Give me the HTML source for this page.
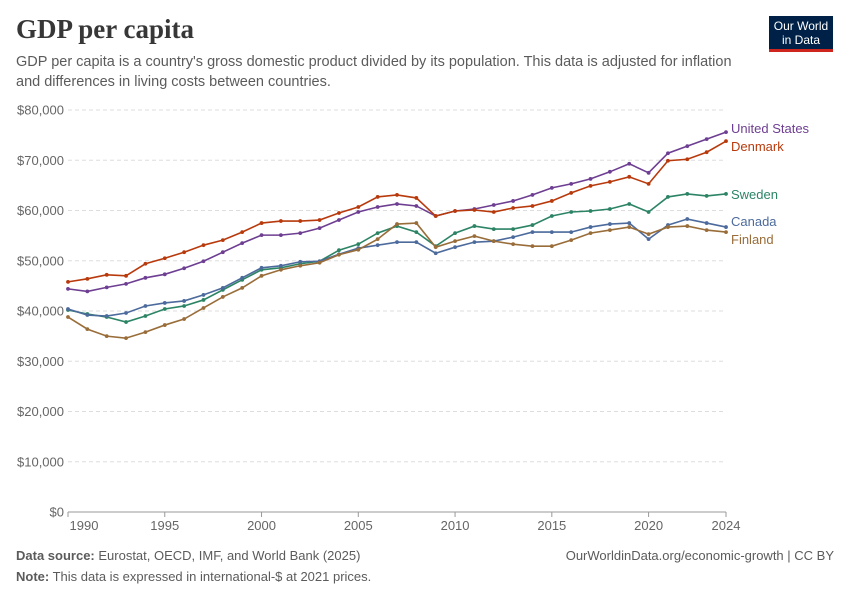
<!DOCTYPE html>
<html><head><meta charset="utf-8">
<style>
body{margin:0;background:#fff;font-family:"Liberation Sans",sans-serif;}
#wrap{position:relative;width:850px;height:600px;overflow:hidden;}
.t{position:absolute;margin:0;}
</style></head><body>
<div id="wrap">
<div class="t" style="left:16px;top:14px;font-family:'Liberation Serif',serif;font-size:27px;font-weight:bold;color:#373737;">GDP per capita</div>
<div class="t" style="left:16px;top:52px;width:720px;font-size:14.5px;line-height:20px;color:#5b5b5b;">GDP per capita is a country's gross domestic product divided by its population. This data is adjusted for inflation and differences in living costs between countries.</div>
<div class="t" style="left:769px;top:16px;width:64px;height:36px;background:#002147;border-bottom:3px solid #ce261e;color:#fff;font-size:12px;line-height:14px;text-align:center;box-sizing:border-box;display:flex;align-items:center;justify-content:center;">Our World<br>in Data</div>
<svg id="chart" width="850" height="600" style="position:absolute;left:0;top:0;"></svg>
<div class="t" style="left:16px;top:548px;font-size:13px;color:#5b5b5b;"><b>Data source:</b> Eurostat, OECD, IMF, and World Bank (2025)</div>
<div class="t" style="right:16px;top:548px;font-size:13px;color:#5b5b5b;">OurWorldinData.org/economic-growth | CC BY</div>
<div class="t" style="left:16px;top:569px;font-size:13px;color:#5b5b5b;"><b>Note:</b> This data is expressed in international-$ at 2021 prices.</div>
</div>
<script>
const years=[];for(let y=1990;y<=2024;y++)years.push(y);
const yTicks=[0,10000,20000,30000,40000,50000,60000,70000,80000];
const xTicks=[1990,1995,2000,2005,2010,2015,2020,2024];
const seriesNames=["United States","Denmark","Sweden","Canada","Finland"];
const usa=[44.4,43.9,44.7,45.4,46.6,47.3,48.5,49.9,51.7,53.5,55.1,55.1,55.5,56.5,58.1,59.7,60.7,61.3,60.9,58.9,59.9,60.3,61.1,61.9,63.1,64.5,65.3,66.3,67.7,69.3,67.5,71.4,72.8,74.2,75.6];
const denmark=[45.8,46.4,47.2,47.0,49.4,50.5,51.7,53.1,54.1,55.7,57.5,57.9,57.9,58.1,59.5,60.7,62.7,63.1,62.5,58.9,59.9,60.1,59.7,60.5,60.9,61.9,63.5,64.9,65.7,66.7,65.3,69.9,70.2,71.6,73.8];
const sweden=[40.2,39.4,38.8,37.8,39.0,40.4,41.0,42.2,44.2,46.2,48.2,48.6,49.4,49.9,52.1,53.3,55.5,56.9,55.7,52.9,55.5,56.9,56.3,56.3,57.1,58.9,59.7,59.9,60.3,61.3,59.7,62.7,63.3,62.9,63.3];
const canada=[40.4,39.2,39.0,39.6,41.0,41.6,42.0,43.2,44.6,46.6,48.6,49.0,49.8,49.9,51.3,52.5,53.1,53.7,53.7,51.5,52.7,53.7,53.9,54.7,55.7,55.7,55.7,56.7,57.3,57.5,54.3,57.1,58.3,57.5,56.7];
const finland=[38.8,36.4,35.0,34.6,35.8,37.2,38.4,40.6,42.8,44.6,47.0,48.2,49.0,49.6,51.2,52.2,54.3,57.3,57.5,52.7,53.9,54.9,53.9,53.3,52.9,52.9,54.1,55.5,56.1,56.7,55.3,56.7,56.9,56.1,55.7];
const allSeries=[usa,denmark,sweden,canada,finland];
const colors=["#6d3e91","#b83a0c","#2c8465","#4c6a9c","#996d39"];
const labelY=[128,146,194,221,239];
const NS="http://www.w3.org/2000/svg";
const svg=document.getElementById('chart');
const x=v=>68+(v-1990)*(726-68)/34;
const y=v=>512-v*(512-110)/80000;
function el(t,a){const e=document.createElementNS(NS,t);for(const k in a)e.setAttribute(k,a[k]);svg.appendChild(e);return e;}
yTicks.forEach(v=>{
  const g=el('line',{x1:68,x2:726,y1:y(v),y2:y(v),stroke:v===0?'#999':'#ddd','stroke-dasharray':v===0?'':'4,3'});
  
  
  const t=el('text',{x:64,y:y(v)+4.5,'text-anchor':'end','font-size':13,fill:'#666','font-family':'Liberation Sans'});
  t.textContent='$'+v.toLocaleString('en-US');
  
  
});
xTicks.forEach(v=>{
  const tk=el('line',{x1:x(v),x2:x(v),y1:512,y2:517,stroke:'#999'});
  
  
  const t=el('text',{x:v===1990?x(v)+16:x(v),y:530,'text-anchor':'middle','font-size':13,fill:'#666','font-family':'Liberation Sans'});
  t.textContent=v;
  
  
});
allSeries.forEach((s,i)=>{
  const pts=s.map((v,j)=>x(years[j])+','+y(v*1000)).join(' ');
  const p=el('polyline',{points:pts,fill:'none',stroke:colors[i],'stroke-width':1.6});
  
  
  s.forEach((v,j)=>{
    const c=el('circle',{cx:x(years[j]),cy:y(v*1000),r:1.9,fill:colors[i]});
    
    
  });
  const t=el('text',{x:731,y:labelY[i]+5,'font-size':13,fill:colors[i],'font-family':'Liberation Sans'});
  t.textContent=seriesNames[i];
  
  
});
</script>
</body></html>
